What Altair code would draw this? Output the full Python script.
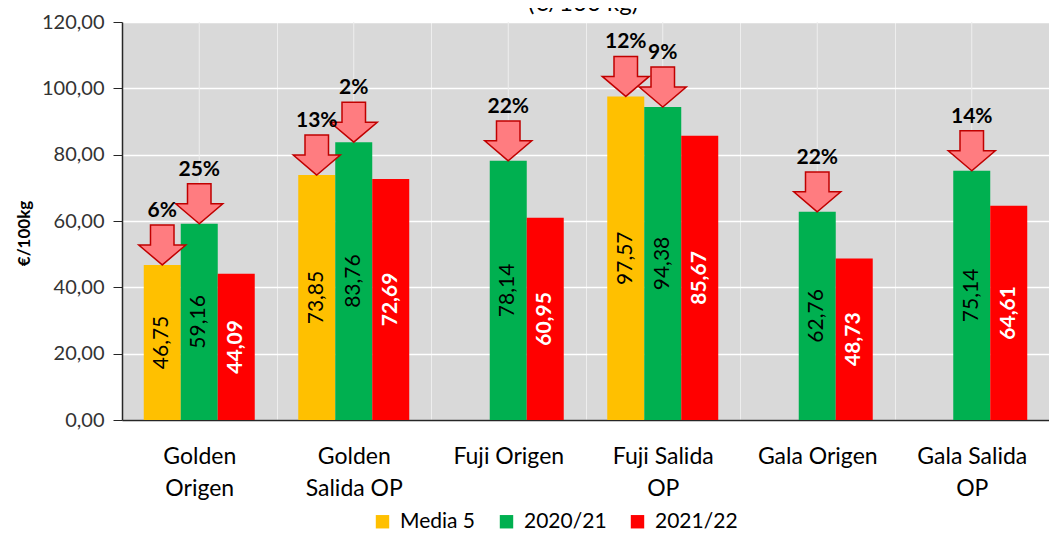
import altair as alt
import pandas as pd

categories = ["Golden Origen", "Golden Salida OP", "Fuji Origen", "Fuji Salida OP", "Gala Origen", "Gala Salida OP"]
label_lines = [["Golden", "Origen"], ["Golden", "Salida OP"], ["Fuji Origen"], ["Fuji Salida", "OP"], ["Gala Origen"], ["Gala Salida", "OP"]]
series = ["Media 5", "2020/21", "2021/22"]
colors = ["#FFC000", "#00B050", "#FF0000"]
media5 = [46.75, 73.85, None, 97.57, None, None]
c2021 = [59.16, 83.76, 78.14, 94.38, 62.76, 75.14]
c2122 = [44.09, 72.69, 60.95, 85.67, 48.73, 64.61]
pct_media5 = ["6%", "13%", None, "12%", None, None]
pct_2021 = ["25%", "2%", "22%", "9%", "22%", "14%"]
y_ticks = [0, 20, 40, 60, 80, 100, 120]
title_text = "(€/100 kg)"

FONT = "Lato"

rows = []
for i, c in enumerate(categories):
    for s, vals in zip(series, [media5, c2021, c2122]):
        v = vals[i]
        if v is not None:
            rows.append({"category": c, "series": s, "value": v,
                         "label": f"{v:.2f}".replace(".", ","), "mid": v / 2})
df = pd.DataFrame(rows)

arows = []
for i, c in enumerate(categories):
    for s, vals, pcts in [("Media 5", media5, pct_media5), ("2020/21", c2021, pct_2021)]:
        if pcts[i] is not None:
            arows.append({"category": c, "series": s, "value": vals[i], "pct": pcts[i]})
adf = pd.DataFrame(arows)

cdf = pd.DataFrame({"category": categories})

# multi-line category labels
expr = "[datum.label]"
for c, lines in zip(categories, label_lines):
    arr = "[" + ",".join("'" + l + "'" for l in lines) + "]"
    expr = f"datum.label == '{c}' ? {arr} : ({expr})"

x_enc = alt.X("category:N", sort=categories,
              scale=alt.Scale(domain=categories, paddingInner=0, paddingOuter=0),
              axis=alt.Axis(title=None, labelExpr=expr, labelFontSize=23, labelFont=FONT,
                            labelColor="#000000", labelLineHeight=32, labelBaseline="top",
                            labelAlign="center", labelPadding=25, ticks=False, tickSize=0,
                            labelAngle=0, domainColor="#262626", domainWidth=1.5,
                            grid=True, tickBand="extent", gridColor="#EEEEEE", gridWidth=1))
xo_enc = alt.XOffset("series:N", sort=series,
                     scale=alt.Scale(domain=series, paddingInner=0, paddingOuter=0.588))
y_enc = alt.Y("value:Q", scale=alt.Scale(domain=[0, 120], nice=False),
              axis=alt.Axis(title="€/100kg", values=y_ticks,
                            labelExpr="replace(format(datum.value, '.2f'), '.', ',')",
                            labelFont=FONT, labelFontSize=20, labelColor="#333333",
                            labelPadding=9, tickSize=9, tickColor="#262626",
                            domainColor="#262626", domainWidth=1.5,
                            grid=True, gridColor="#FFFFFF", gridWidth=1.3,
                            titleFont=FONT, titleFontSize=17, titleFontWeight="bold",
                            titleColor="#000000", titlePadding=8, titleY=211))

rules = alt.Chart(cdf).mark_rule(color="#EEEEEE", strokeWidth=1).encode(
    x=alt.X("category:N", sort=categories), y=alt.datum(0), y2=alt.datum(120))

bars = alt.Chart(df).mark_bar().encode(
    x=x_enc, xOffset=xo_enc, y=y_enc,
    color=alt.Color("series:N", sort=series,
                    scale=alt.Scale(domain=series, range=colors),
                    legend=alt.Legend(title=None, orient="none", legendX=250, legendY=489,
                                      direction="horizontal", symbolType="square",
                                      symbolSize=180, symbolStrokeWidth=0,
                                      labelFont=FONT, labelFontSize=21, labelColor="#000000",
                                      columnPadding=20, labelOffset=7)))

txt_dark = alt.Chart(df).transform_filter("datum.series != '2021/22'").mark_text(
    angle=270, align="center", baseline="middle", font=FONT, fontSize=21, color="#000000"
).encode(x=alt.X("category:N", sort=categories), xOffset=xo_enc,
         y=alt.Y("mid:Q"), text="label:N")

txt_red = alt.Chart(df).transform_filter("datum.series == '2021/22'").mark_text(
    angle=270, align="center", baseline="middle", font=FONT, fontSize=21,
    fontWeight="bold", color="#FFFFFF"
).encode(x=alt.X("category:N", sort=categories), xOffset=xo_enc,
         y=alt.Y("mid:Q"), text="label:N")

ARROW = "M0,0 L-1,-0.85 L-0.5,-0.85 L-0.5,-1.7 L0.5,-1.7 L0.5,-0.85 L1,-0.85 Z"
arrows = alt.Chart(adf).mark_point(
    shape=ARROW, size=2209, filled=True, fill="#FF7C80", stroke="#C00000",
    strokeWidth=1.5, opacity=1, fillOpacity=1
).encode(x=alt.X("category:N", sort=categories), xOffset=xo_enc, y=alt.Y("value:Q"))

pcts = alt.Chart(adf).mark_text(
    baseline="alphabetic", align="center", dy=-48, font=FONT, fontSize=21,
    fontWeight="bold", color="#000000"
).encode(x=alt.X("category:N", sort=categories), xOffset=xo_enc,
         y=alt.Y("value:Q"), text="pct:N")

title = alt.Chart(pd.DataFrame({"t": [title_text]})).mark_text(
    font=FONT, fontSize=24, align="center", baseline="alphabetic", color="#000000"
).encode(x=alt.value(461), y=alt.value(-11), text="t:N")

chart = alt.layer(rules, bars, txt_dark, txt_red, arrows, pcts, title).properties(
    width=927, height=398,
    padding={"left": 114, "top": 14, "right": 0, "bottom": 112},
    autosize=alt.AutoSizeParams(type="none"),
    background="#FFFFFF",
).configure_view(fill="#D9D9D9", stroke="transparent")

chart.save("out.html", embed_options={"renderer": "svg", "actions": False})
